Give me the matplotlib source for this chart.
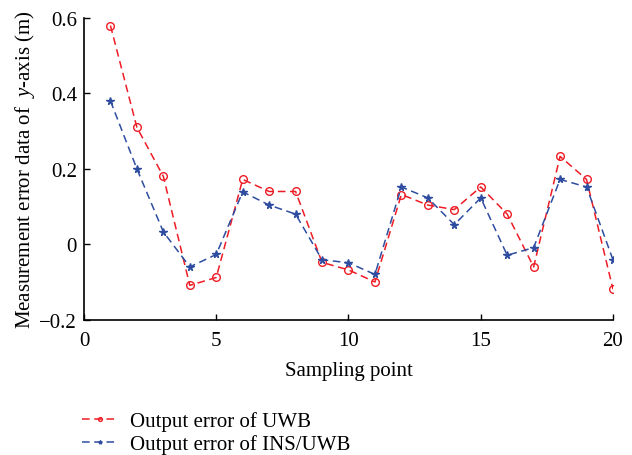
import matplotlib
matplotlib.use("Agg")
import matplotlib.pyplot as plt

plt.rcParams["font.family"] = "Liberation Serif"
plt.rcParams["mathtext.fontset"] = "custom"
plt.rcParams["mathtext.rm"] = "Liberation Serif"
plt.rcParams["mathtext.it"] = "Liberation Serif:italic"

# sampling points and the two error series (m)
points = list(range(1, 21))
err_uwb = [0.58, 0.31, 0.18, -0.109, -0.088, 0.172, 0.14, 0.14, -0.048, -0.068,
           -0.10, 0.132, 0.104, 0.092, 0.152, 0.08, -0.06, 0.233, 0.172, -0.119]
err_ins_uwb = [0.38, 0.20, 0.033, -0.06, -0.027, 0.139, 0.104, 0.08, -0.041, -0.049,
               -0.08, 0.152, 0.123, 0.052, 0.123, -0.029, -0.009, 0.172, 0.152, -0.041]

xticks = [0, 5, 10, 15, 20]
yticks = [-0.2, 0, 0.2, 0.4, 0.6]
ytick_labels = ["\u22120.2", "0", "0.2", "0.4", "0.6"]

RED = "#ee1c25"
BLUE = "#2e4da0"
FS = 15

fig = plt.figure(figsize=(6.32, 4.56), dpi=100)
ax = fig.add_axes([0.1329, 0.2967, 0.837, 0.6616])

ax.plot(points, err_uwb, color=RED, ls=(0, (5, 3)), lw=1.1, marker="o",
        ms=5.5, mfc="none", mec=RED, mew=1.0, label="Output error of UWB")
ax.plot(points, err_ins_uwb, color=BLUE, ls=(0, (5, 3)), lw=1.1, marker="*",
        ms=5.5, mfc=BLUE, mec=BLUE, label="Output error of INS/UWB")

ax.set_xlim(0, 20)
ax.set_ylim(-0.2, 0.6)
ax.set_xticks(xticks)
ax.set_yticks(yticks)
ax.set_yticklabels(ytick_labels)
ax.tick_params(direction="in", length=4, width=1.0, labelsize=FS)
ax.tick_params(axis="y", pad=5)
ax.tick_params(axis="x", pad=8)
for side in ("top", "right"):
    ax.spines[side].set_visible(False)
for side in ("left", "bottom"):
    ax.spines[side].set_linewidth(1.2)

ax.set_xlabel("Sampling point", fontsize=FS, labelpad=8)
ax.set_ylabel(r"Measurement error data of  $\mathit{y}$-axis (m)", fontsize=FS,
              labelpad=2)

# legend sits under the axes, left-aligned with the y spine
fig.legend(loc="upper left", bbox_to_anchor=(0.117, 0.115), frameon=False,
           fontsize=FS, handlelength=1.7, handletextpad=0.6,
           labelspacing=0.15, borderaxespad=0, markerscale=0.5)

fig.savefig("out.png", dpi=100)
